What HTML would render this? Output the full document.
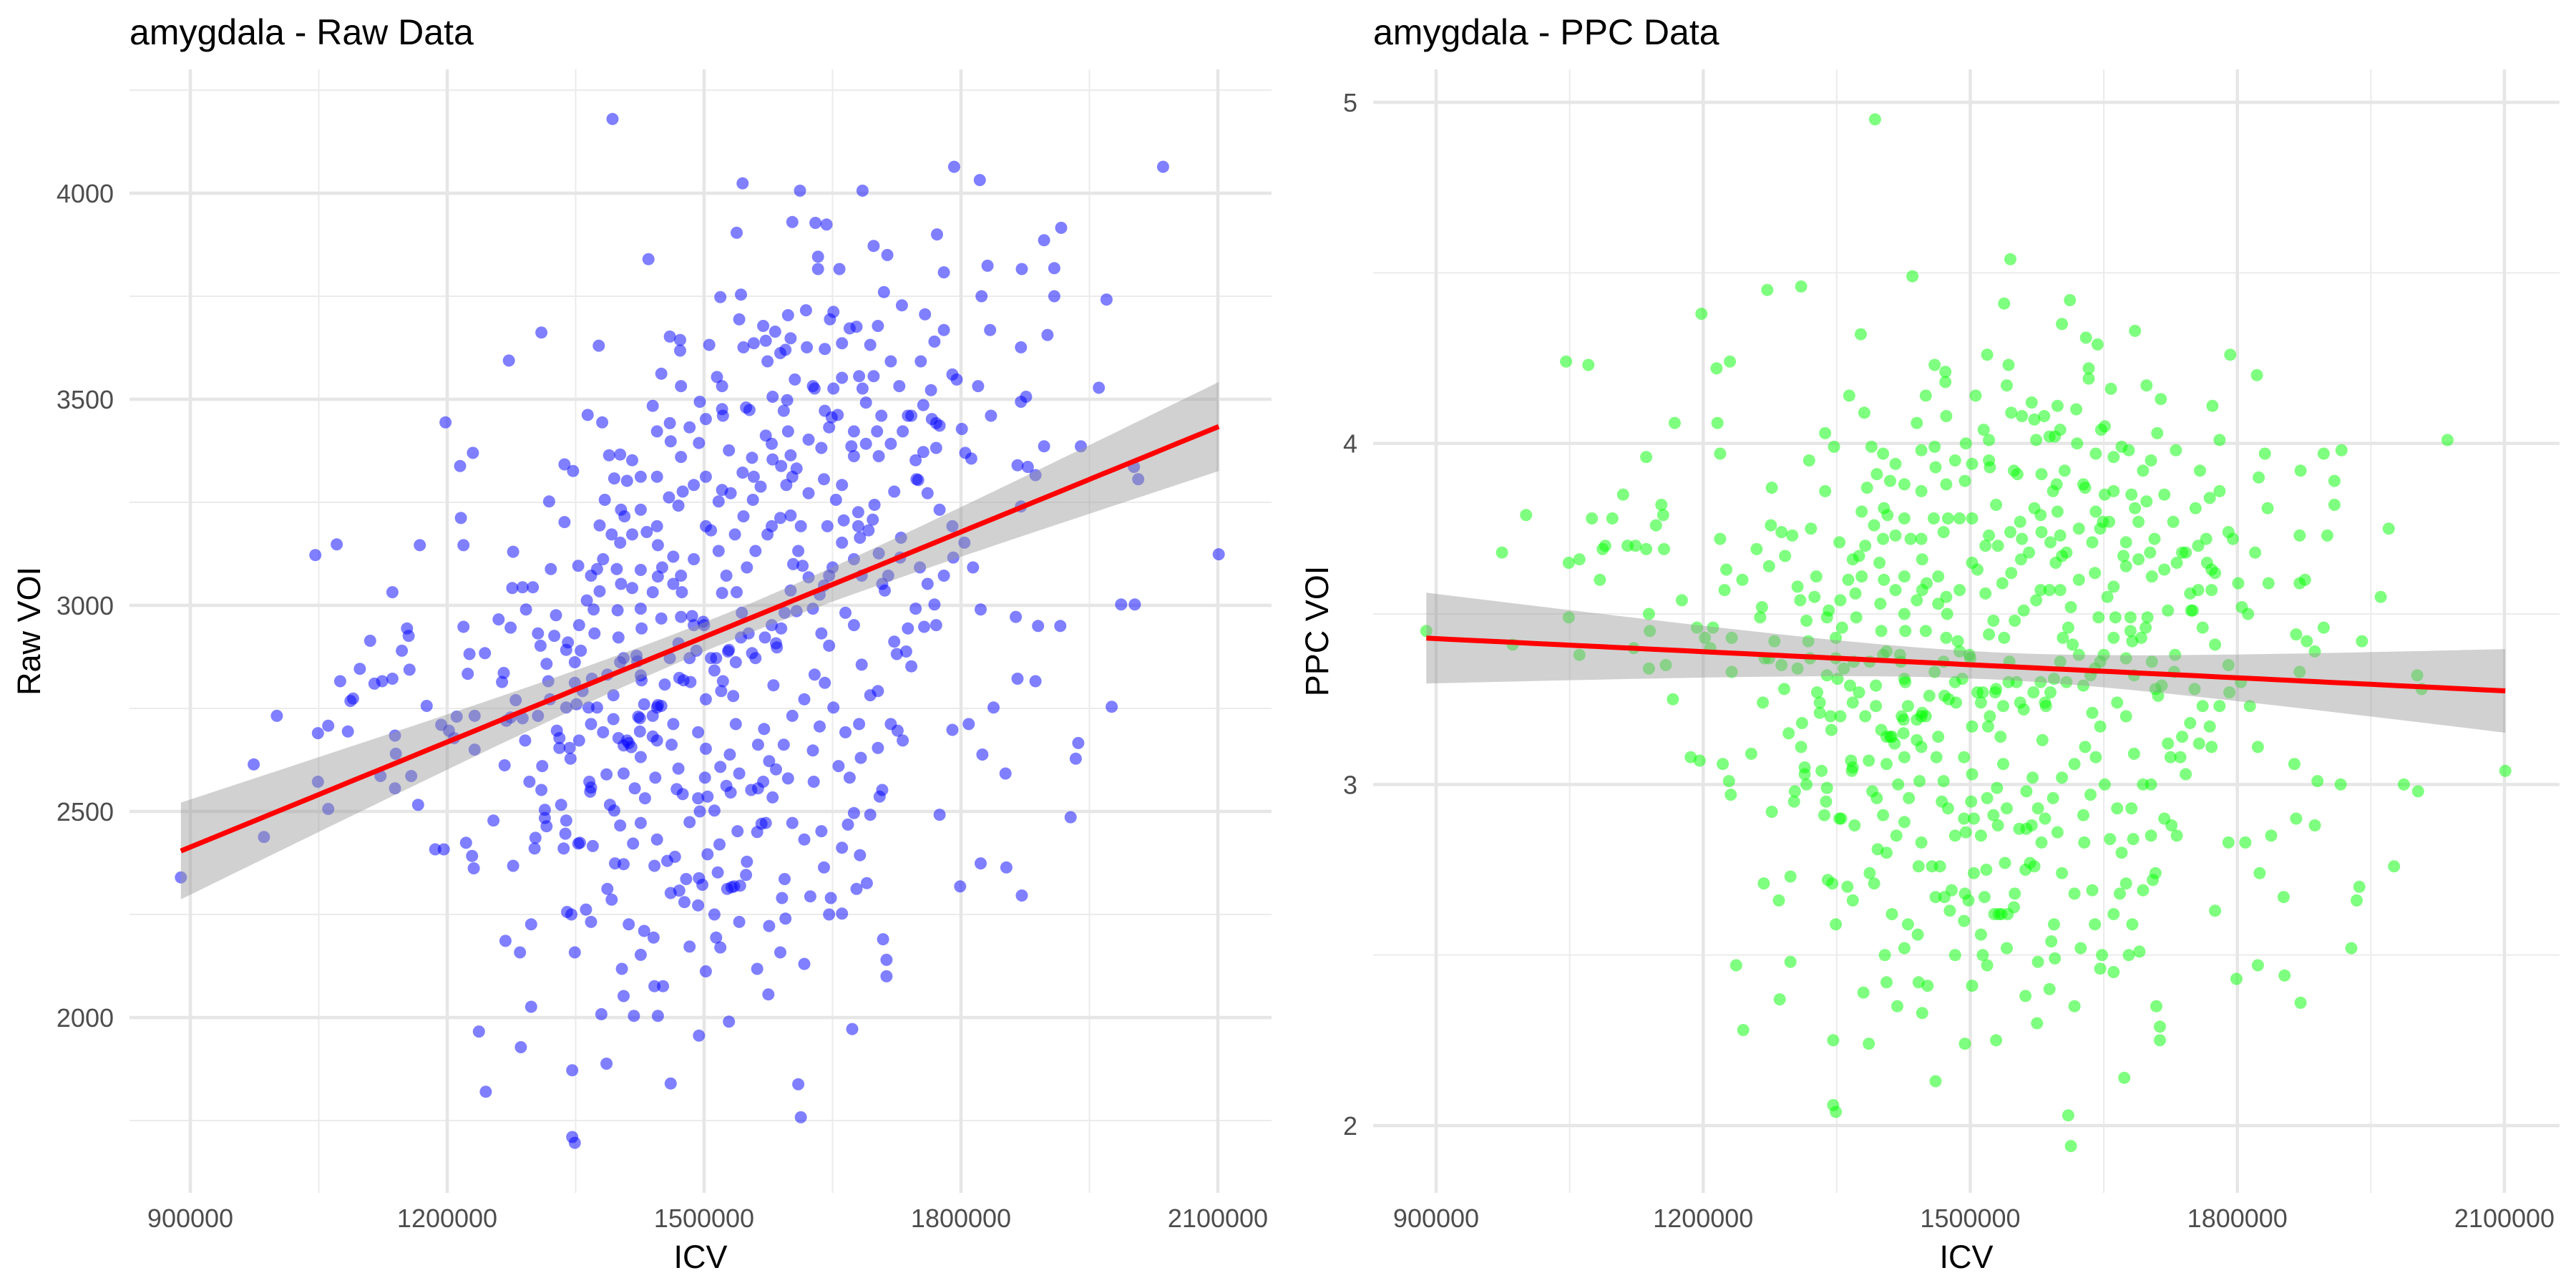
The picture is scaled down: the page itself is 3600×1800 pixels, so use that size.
<!DOCTYPE html>
<html><head><meta charset="utf-8"><title>amygdala Raw vs PPC</title>
<style>
html,body{margin:0;padding:0;background:#fff;}
svg{display:block;font-family:"Liberation Sans",Arial,sans-serif;}
</style></head>
<body>
<svg id="chart" width="3600" height="1800" viewBox="0 0 3600 1800" xmlns="http://www.w3.org/2000/svg">
  <rect x="0" y="0" width="3600" height="1800" fill="#ffffff"/>
  <g id="left-panel"></g>
  <g id="right-panel"></g>
</svg>
<script>
// ICV in thousands (x), Raw VOI (left y), PPC VOI (right y)
const icvK = [
1393,1792,2036,1822,1545,1612,1685,1603,1630,1643,1917,1538,1772,1897,1698,1714,1435,1633,1831,1909,
1633,1658,1780,1871,1710,1519,1543,1824,1909,1970,1758,1731,1619,1647,1541,1598,1569,1703,1678,1834,
1780,1583,1310,1901,1460,1506,1601,1572,1558,1472,1472,1661,1769,1377,1595,1620,1641,1870,1272,1606,
1681,1698,1790,1795,1450,1515,1961,1820,1629,1685,1651,1765,1756,1580,1597,1593,1495,1876,1870,1440,
1521,1553,1522,1641,1649,1707,1738,1766,1771,1835,1364,1381,1198,1460,1572,1445,1461,1702,1775,1494,
1529,1756,1771,1801,1805,1812,1866,1878,1887,1897,1940,2002,2007,1230,1215,1337,1347,1389,1395,1402,
1410,1558,1556,1580,1601,1603,
889,974,986,1001,1046,1049,1049,1061,1061,1071,1075,1084,1087,1090,1098,1110,1115,1122,1124,1136,
1136,1139,1139,1140,1147,1153,1155,1156,1158,1166,1168,1176,1186,1193,1196,1202,1208,1211,1216,1219,
1219,1222,1224,1226,1229,1231,1232,1232,1237,1245,1244,1254,1260,1264,1266,1267,1268,1269,1274,1274,
1277,1277,1276,1280,1285,1286,1288,1288,1292,1298,1298,1302,1303,1300,1306,1309,1311,1314,1314,1316,
1316,1318,1319,1321,1325,1327,1328,1331,1331,1333,1336,1337,1338,1339,1340,1341,1343,1344,1345,1346,
1346,1349,1349,1349,1351,1353,1353,1355,1356,1362,1365,1366,1367,1368,1369,1370,1371,1372,1375,1375,
1378,1378,1380,1384,1386,1386,1390,1392,1394,1394,1395,1396,1398,1399,1400,1400,1402,1402,1403,1404,
1406,1407,1410,1412,1412,1415,1418,1417,1419,1421,1422,1423,1425,1425,1426,1426,1427,1427,1430,1431,
1433,1440,1441,1442,1442,1443,1446,1446,1446,1450,1446,1450,1452,1457,1461,1461,1462,1464,1466,1468,
1470,1471,1471,1473,1474,1475,1475,1476,1477,1479,1483,1484,1486,1491,1493,1494,1494,1495,1498,1499,
1501,1504,1504,1508,1508,1512,1514,1516,1518,1519,1519,1521,1521,1522,1527,1528,1529,1530,1531,1532,
1534,1535,1538,1537,1539,1542,1543,1546,1546,1549,1549,1550,1556,1557,1562,1562,1563,1563,1566,1567,
1570,1572,1575,1576,1576,1579,1580,1581,1585,1589,1590,1591,1594,1595,1596,1598,1601,1608,1610,1613,
1617,1624,1627,1628,1635,1640,1640,1646,1648,1657,1661,1668,1673,1675,1678,1682,1683,1690,1703,1705,
1709,1713,1713,1726,1729,1736,1738,1748,1753,1757,1769,1775,1790,1791,1799,1823,1823,1825,1853,1864,
1866,1870,1871,1887,1890,1916,1928,1934,1937,1976,1987,2003,2101,
1644,1654,1661,1663,1672,1675,1680,1680,1682,1692,1697,1699,1704,1708,1711,1715,1722,1722,1725,1730,
1742,1750,1650,1646,1640,1635,1627,1622,1615,1610,1604,1601,1594,1590,1584,1579,1571,1560,1552,1544,
1537,1529,1512,1514,1520,1502,1500,1488,1483,1473,1470,1460,1454,1445,1440,1430,1637,1646,1665,1675,
1684,1694,1681,1665,1651,1641,1629,1617,1603,1593,1584,1569,1555,1541,1526,1512,1603,1617,1637,1661,
1694,1708,1670,1589,1574,1560,1550,1536,1526,1517,1502,1488,1473,1464,1451,1440,1426,1416,1406,1387,
1358,1349,1339,1531,1545,1517,1502,1488,1470,1459,1445,1426,1416,1402,1579,1598,1622,1637,1646,1656,
1675,1689,1704,1718,1732,1747,1761,1775,1790,1804,1814,1780,1761,1747,1771,1809,1838,1852,1732,1718,
1703,1742,1752,1684,1675,1661,1613,1622,1608,1627,1661,1689,1718,1728,1694,1670,1651,1574,1589,1521,
1502,1483,1473,1445,1426,1416,1403,1392,1382,1368,1363,1354,1339,1320,1306,1291,1296,1310,1354,1368,
1382,1406,1426,1445,1464,1493,1502,1426,1445,1406,1387,1368,1493,1502,1541,1483,1426,1406
];
const rawVoi = [
4180,4064,4064,4032,4024,4006,4006,3930,3928,3924,3916,3904,3900,3886,3872,3850,3840,3846,3824,3818,
3816,3816,3808,3816,3760,3748,3754,3750,3750,3742,3706,3728,3716,3694,3694,3704,3678,3678,3676,3668,
3668,3664,3662,3656,3652,3632,3648,3642,3636,3644,3618,3636,3640,3630,3620,3626,3622,3626,3594,3548,
3556,3556,3560,3548,3562,3554,3528,3532,3526,3526,3526,3522,3486,3506,3498,3472,3494,3506,3494,3484,
3476,3474,3460,3472,3456,3460,3460,3452,3442,3460,3462,3444,3444,3442,3412,3422,3398,3422,3436,3394,
3376,3372,3382,3428,3370,3356,3340,3336,3316,3386,3386,3336,3306,3370,3338,3342,3326,3364,3308,3366,
3302,3312,3358,3354,3364,3312,
2340,2614,2438,2732,3122,2690,2572,2708,2506,3148,2816,2694,2768,2774,2846,2914,2810,2586,2816,3032,
2822,2684,2556,2640,2890,2944,2926,2844,2586,2516,3146,2756,2408,2710,2408,2696,2678,2730,3212,3146,
2948,2424,2834,2882,2392,2362,2732,2650,1966,1820,2884,2478,2966,2814,2836,2612,2186,2720,2946,2728,
2368,3130,3042,2770,2158,1928,2726,3044,2990,2226,2026,2410,2436,3044,2932,2902,2610,2504,2484,2858,
2464,2816,3252,3088,2926,2976,2696,2678,2654,2516,2410,3202,2446,2478,2256,2910,2654,2628,2250,1872,
1710,1696,2158,2862,2760,3096,2422,2424,2890,2262,2752,2572,2548,2558,2822,2416,2990,2932,2752,3088,
3194,3034,2008,3256,2590,1888,2516,2286,2782,2724,2502,2374,3088,2988,2922,2678,2466,2862,3052,2118,
2660,3216,2672,2226,2666,2656,2004,2422,2556,2878,2864,2730,2726,2694,2830,3086,2944,2818,2210,2532,
3178,2682,2194,2076,2368,2582,3146,3070,2758,2756,2004,2968,2076,2380,2302,1840,2662,3118,2390,2554,
2604,2824,2308,3360,3032,2542,3276,2818,2280,2336,2474,2814,2974,2890,2532,1956,2338,2500,2322,2960,
2582,2396,2536,3182,2872,2250,2194,2352,2420,2170,2608,3030,3280,2816,2312,2888,1990,2638,2546,2316,
2780,2318,3032,2712,2452,2320,2922,3626,3216,2346,3480,2378,2884,3256,2450,2118,2556,2662,3288,2470,
2700,2472,2056,2222,2622,3192,2534,2806,2898,2158,3338,2290,2336,2240,3292,2580,3218,2986,1838,1758,
2130,2294,2648,2572,2706,2364,3306,2250,2290,2610,2252,2468,1972,2496,2312,2394,2630,2326,2654,2536,
2190,2140,2100,2696,3116,2888,2944,3306,3592,2948,3002,2492,2698,3116,2318,2374,2990,2638,2364,2972,
2822,3240,2296,2816,2950,2950,2486,2628,2666,2754,3002,3002,3124,
3192,3256,3292,3206,3386,3362,3226,3192,3164,3182,3208,3244,3126,3052,3036,3072,3276,2912,2882,3164,
3460,3304,3092,3072,3048,3026,2992,3068,3096,3132,3100,3036,2982,2944,2908,2952,2922,2872,2932,2982,
2862,2892,2842,2872,2792,2772,2952,2952,2872,2972,2908,2872,2808,2752,2732,2760,2932,2902,2982,2952,
2856,2782,2712,2692,2752,2812,2832,2772,2732,2662,2602,2572,2552,2592,2562,2502,2472,2432,2452,2412,
2492,2552,2582,3212,3172,3132,3092,3172,3072,3132,3192,3112,3072,3052,3092,3032,2992,3042,2872,2832,
2792,2812,2752,3272,3322,3252,3312,3292,3242,3262,3192,3232,3172,3152,3392,3422,3402,3382,3432,3462,
3422,3392,3362,3392,3422,3352,3272,3232,3192,3152,3092,3072,3052,2992,2952,2712,2752,2592,2672,2712,
2792,2852,3092,3072,3112,3152,3192,3272,3332,3532,3552,3492,3592,3532,3632,3672,3712,3592,3612,3532,
3452,3432,3532,3312,3312,3352,3232,3172,3112,3072,3012,2952,2892,2772,2732,2672,2572,2552,2672,2712,
2692,2592,2632,2672,2712,2692,2652,2472,2432,2372,2312,2232,2272,2112,2232,2172,2152,2052
];
const ppcVoi = [
4.95,4.26,4.01,4.20,4.54,4.42,4.33,4.35,4.31,4.29,3.98,4.41,4.11,3.97,4.17,4.13,4.49,4.22,3.97,3.89,
4.19,4.16,4.01,3.92,4.03,4.26,4.23,3.90,3.82,3.75,3.92,3.98,4.10,4.04,4.17,4.11,4.12,3.95,3.98,3.81,
3.86,4.08,4.46,3.73,4.23,4.14,4.04,4.07,4.08,4.21,4.18,3.96,3.84,4.32,4.02,4.00,3.97,3.73,4.45,3.92,
3.85,3.83,3.74,3.72,4.14,4.04,3.55,3.68,3.87,3.81,3.85,3.72,3.70,3.91,3.88,3.86,4.00,3.60,3.59,4.06,
3.95,3.91,3.93,3.80,3.77,3.72,3.68,3.65,3.63,3.59,4.14,4.09,4.38,3.99,3.81,3.98,3.93,3.68,3.62,3.89,
3.82,3.57,3.57,3.59,3.52,3.50,3.44,3.42,3.39,3.46,3.42,3.32,3.28,4.24,4.22,4.03,3.99,3.99,3.91,3.97,
3.89,3.72,3.77,3.74,3.73,3.67,
3.45,3.68,3.41,3.79,4.24,3.65,3.49,3.66,3.38,4.23,3.78,3.60,3.69,3.70,3.78,3.85,3.70,3.40,3.70,3.96,
3.69,3.50,3.34,3.45,3.76,3.82,3.79,3.69,3.35,3.25,4.06,3.54,3.08,3.46,3.07,3.43,3.40,3.46,4.06,3.97,
3.72,3.06,3.57,3.63,3.01,2.97,3.43,3.33,2.47,2.28,3.60,3.09,3.69,3.49,3.52,3.24,2.71,3.37,3.64,3.37,
2.92,3.87,3.76,3.42,2.66,2.37,3.35,3.74,3.67,2.73,2.48,2.95,2.98,3.73,3.58,3.54,3.18,3.05,3.03,3.48,
3.00,3.42,3.95,3.75,3.55,3.61,3.27,3.24,3.21,3.04,2.91,3.86,2.95,2.99,2.72,3.51,3.20,3.16,2.71,2.25,
2.06,2.04,2.59,3.43,3.31,3.71,2.90,2.90,3.46,2.70,3.29,3.07,3.04,3.05,3.36,2.88,3.56,3.49,3.27,3.67,
3.80,3.61,2.39,3.87,3.07,2.24,2.98,2.71,3.29,3.23,2.96,2.81,3.65,3.53,3.45,3.16,2.91,3.38,3.60,2.50,
3.14,3.79,3.14,2.62,3.14,3.12,2.35,2.85,3.00,3.38,3.36,3.20,3.19,3.15,3.31,3.61,3.45,3.30,2.59,2.96,
3.72,3.13,2.56,2.42,2.76,3.01,3.66,3.57,3.21,3.20,2.33,3.45,2.41,2.76,2.67,2.13,3.08,3.61,2.76,2.95,
3.01,3.26,2.67,3.88,3.50,2.93,3.78,3.25,2.63,2.69,2.85,3.24,3.42,3.31,2.90,2.24,2.68,2.86,2.66,3.38,
2.95,2.74,2.90,3.63,3.27,2.56,2.50,2.67,2.75,2.47,2.96,3.44,3.73,3.20,2.62,3.27,2.25,2.99,2.88,2.62,
3.14,2.62,3.43,3.06,2.77,2.62,3.30,4.09,3.62,2.64,3.92,2.68,3.24,3.66,2.75,2.38,2.87,2.98,3.68,2.77,
3.02,2.76,2.30,2.48,2.93,3.57,2.83,3.13,3.23,2.40,3.71,2.54,2.59,2.49,3.65,2.86,3.57,3.30,2.03,1.94,
2.35,2.52,2.91,2.83,2.97,2.59,3.62,2.46,2.50,2.84,2.45,2.68,2.14,2.71,2.50,2.59,2.84,2.51,2.85,2.72,
2.35,2.29,2.25,2.88,3.33,3.08,3.14,3.51,3.81,3.12,3.17,2.63,2.83,3.27,2.43,2.47,3.11,2.74,2.44,3.06,
2.90,3.33,2.36,2.88,3.01,3.00,2.52,2.66,2.70,2.76,3.00,2.98,3.04,
3.49,3.55,3.58,3.49,3.67,3.64,3.49,3.45,3.42,3.43,3.46,3.49,3.36,3.28,3.26,3.29,3.51,3.12,3.08,3.38,
3.68,3.51,3.38,3.36,3.34,3.32,3.29,3.38,3.41,3.46,3.43,3.36,3.31,3.27,3.24,3.30,3.27,3.22,3.30,3.36,
3.23,3.28,3.24,3.27,3.17,3.17,3.37,3.39,3.30,3.43,3.36,3.33,3.26,3.20,3.19,3.23,3.21,3.17,3.24,3.20,
3.09,3.00,2.93,2.93,3.00,3.08,3.11,3.06,3.02,2.96,2.90,2.88,2.87,2.93,2.91,2.85,2.74,2.68,2.69,2.62,
2.69,2.74,2.80,3.57,3.54,3.51,3.48,3.59,3.48,3.56,3.65,3.57,3.55,3.53,3.59,3.54,3.50,3.57,3.39,3.36,
3.34,3.37,3.32,3.70,3.74,3.70,3.78,3.78,3.74,3.78,3.72,3.78,3.73,3.72,3.79,3.80,3.75,3.71,3.75,3.77,
3.71,3.66,3.61,3.63,3.65,3.56,3.46,3.41,3.35,3.30,3.23,3.23,3.23,3.18,3.11,2.83,2.85,2.67,2.85,2.90,
3.00,3.03,3.28,3.32,3.37,3.43,3.52,3.60,3.68,3.88,3.86,3.77,3.85,3.77,3.92,3.99,4.05,4.01,4.02,4.01,
3.94,3.95,4.08,3.86,3.88,3.94,3.81,3.76,3.70,3.66,3.60,3.54,3.49,3.37,3.34,3.28,3.15,3.11,3.20,3.24,
3.20,3.06,3.08,3.11,3.14,3.08,3.03,2.89,2.83,2.80,2.74,2.66,2.60,2.41,2.52,2.50,2.52,2.42
];
const xTickVals = [900, 1200, 1500, 1800, 2100];
const xTickLabels = ["900000", "1200000", "1500000", "1800000", "2100000"];
const rawTickVals = [2000, 2500, 3000, 3500, 4000];
const rawTickLabels = ["2000", "2500", "3000", "3500", "4000"];
const ppcTickVals = [2, 3, 4, 5];
const ppcTickLabels = ["2", "3", "4", "5"];

const NS = "http://www.w3.org/2000/svg";
function mk(tag, attrs, parent) {
  const e = document.createElementNS(NS, tag);
  for (const k in attrs) e.setAttribute(k, attrs[k]);
  parent.appendChild(e);
  return e;
}
function lin(d0, d1, r0, r1) { return v => r0 + (v - d0) * (r1 - r0) / (d1 - d0); }

function drawPanel(g, cfg) {
  const { px0, px1, py0, py1, xs, ys, yVals, yTickVals, yTickLabels, color, title, yTitle, yTitleX, yLabelRight } = cfg;
  const xMinor = [], yMinor = [];
  for (let i = -1; i < xTickVals.length; i++) {
    const a = i < 0 ? xTickVals[0] - (xTickVals[1] - xTickVals[0]) : xTickVals[i];
    const b = i + 1 < xTickVals.length ? xTickVals[i + 1] : xTickVals[i] + (xTickVals[i] - xTickVals[i - 1]);
    xMinor.push((a + b) / 2);
  }
  for (let i = -1; i < yTickVals.length; i++) {
    const a = i < 0 ? yTickVals[0] - (yTickVals[1] - yTickVals[0]) : yTickVals[i];
    const b = i + 1 < yTickVals.length ? yTickVals[i + 1] : yTickVals[i] + (yTickVals[i] - yTickVals[i - 1]);
    yMinor.push((a + b) / 2);
  }
  const grid = mk("g", {}, g);
  
  
  xMinor.forEach(v => {
    const x = xs(v); if (x < px0 || x > px1) return;
    const l = mk("line", { x1: x, x2: x, y1: py0, y2: py1, stroke: "#ebebeb", "stroke-width": 2 }, grid);
    
    
  });
  yMinor.forEach(v => {
    const y = ys(v); if (y < py0 || y > py1) return;
    const l = mk("line", { x1: px0, x2: px1, y1: y, y2: y, stroke: "#ebebeb", "stroke-width": 2 }, grid);
    
    
  });
  xTickVals.forEach((v, i) => {
    const x = xs(v);
    const l = mk("line", { x1: x, x2: x, y1: py0, y2: py1, stroke: "#e6e6e6", "stroke-width": 4.5 }, grid);
    
    
    const t = mk("text", { x: x, y: 1715, "text-anchor": "middle", "font-size": 36, fill: "#4d4d4d" }, g);
    t.textContent = xTickLabels[i];
    
    
  });
  yTickVals.forEach((v, i) => {
    const y = ys(v);
    const l = mk("line", { x1: px0, x2: px1, y1: y, y2: y, stroke: "#e6e6e6", "stroke-width": 4.5 }, grid);
    
    
    const t = mk("text", { x: yLabelRight, y: y + 13, "text-anchor": "end", "font-size": 36, fill: "#4d4d4d" }, g);
    t.textContent = yTickLabels[i];
    
    
  });
  const pts = mk("g", {}, g);
  
  
  for (let i = 0; i < icvK.length; i++) {
    const c = mk("circle", { cx: xs(icvK[i]).toFixed(1), cy: ys(yVals[i]).toFixed(1), r: 8.5, fill: color, "fill-opacity": 0.5 }, pts);
    
    
  }
  const n = icvK.length;
  let mx = 0, my = 0;
  for (let i = 0; i < n; i++) { mx += icvK[i]; my += yVals[i]; }
  mx /= n; my /= n;
  let sxx = 0, sxy = 0;
  for (let i = 0; i < n; i++) { sxx += (icvK[i] - mx) ** 2; sxy += (icvK[i] - mx) * (yVals[i] - my); }
  const b = sxy / sxx, a = my - b * mx;
  let sse = 0;
  for (let i = 0; i < n; i++) sse += (yVals[i] - a - b * icvK[i]) ** 2;
  const s = Math.sqrt(sse / (n - 2)), tq = 1.964;
  const xmin = Math.min(...icvK), xmax = Math.max(...icvK);
  const up = [], lo = [], ln = [];
  for (let k = 0; k <= 80; k++) {
    const xv = xmin + (xmax - xmin) * k / 80;
    const fit = a + b * xv;
    const se = s * Math.sqrt(1 / n + (xv - mx) ** 2 / sxx);
    up.push(xs(xv).toFixed(1) + "," + ys(fit + tq * se).toFixed(1));
    lo.unshift(xs(xv).toFixed(1) + "," + ys(fit - tq * se).toFixed(1));
    ln.push(xs(xv).toFixed(1) + "," + ys(fit).toFixed(1));
  }
  const band = mk("polygon", { points: up.concat(lo).join(" "), fill: "#999999", "fill-opacity": 0.45 }, g);
  
  
  const line = mk("polyline", { points: ln.join(" "), fill: "none", stroke: "#ff0000", "stroke-width": 7 }, g);
  
  
  const tt = mk("text", { x: px0, y: 62, "font-size": 50, fill: "#000" }, g);
  tt.textContent = title;
  
  
  const xt = mk("text", { x: (px0 + px1) / 2, y: 1772, "text-anchor": "middle", "font-size": 45, fill: "#000" }, g);
  xt.textContent = "ICV";
  
  
  const cy = (py0 + py1) / 2;
  const yt = mk("text", { x: yTitleX, y: cy, "text-anchor": "middle", "font-size": 45, fill: "#000", transform: "rotate(-90 " + yTitleX + " " + cy + ")" }, g);
  yt.textContent = yTitle;
  
  
}

drawPanel(document.getElementById("left-panel"), {
  px0: 181, px1: 1777, py0: 97, py1: 1667,
  xs: lin(900, 2100, 266, 1702), ys: lin(2000, 4000, 1422, 270),
  yVals: rawVoi, yTickVals: rawTickVals, yTickLabels: rawTickLabels,
  color: "#0000ff", title: "amygdala - Raw Data", yTitle: "Raw VOI", yTitleX: 56, yLabelRight: 159
});
drawPanel(document.getElementById("right-panel"), {
  px0: 1919, px1: 3577, py0: 97, py1: 1667,
  xs: lin(900, 2100, 2007, 3500), ys: lin(2, 5, 1573, 143),
  yVals: ppcVoi, yTickVals: ppcTickVals, yTickLabels: ppcTickLabels,
  color: "#00ff00", title: "amygdala - PPC Data", yTitle: "PPC VOI", yTitleX: 1856, yLabelRight: 1897
});
</script>
</body></html>
